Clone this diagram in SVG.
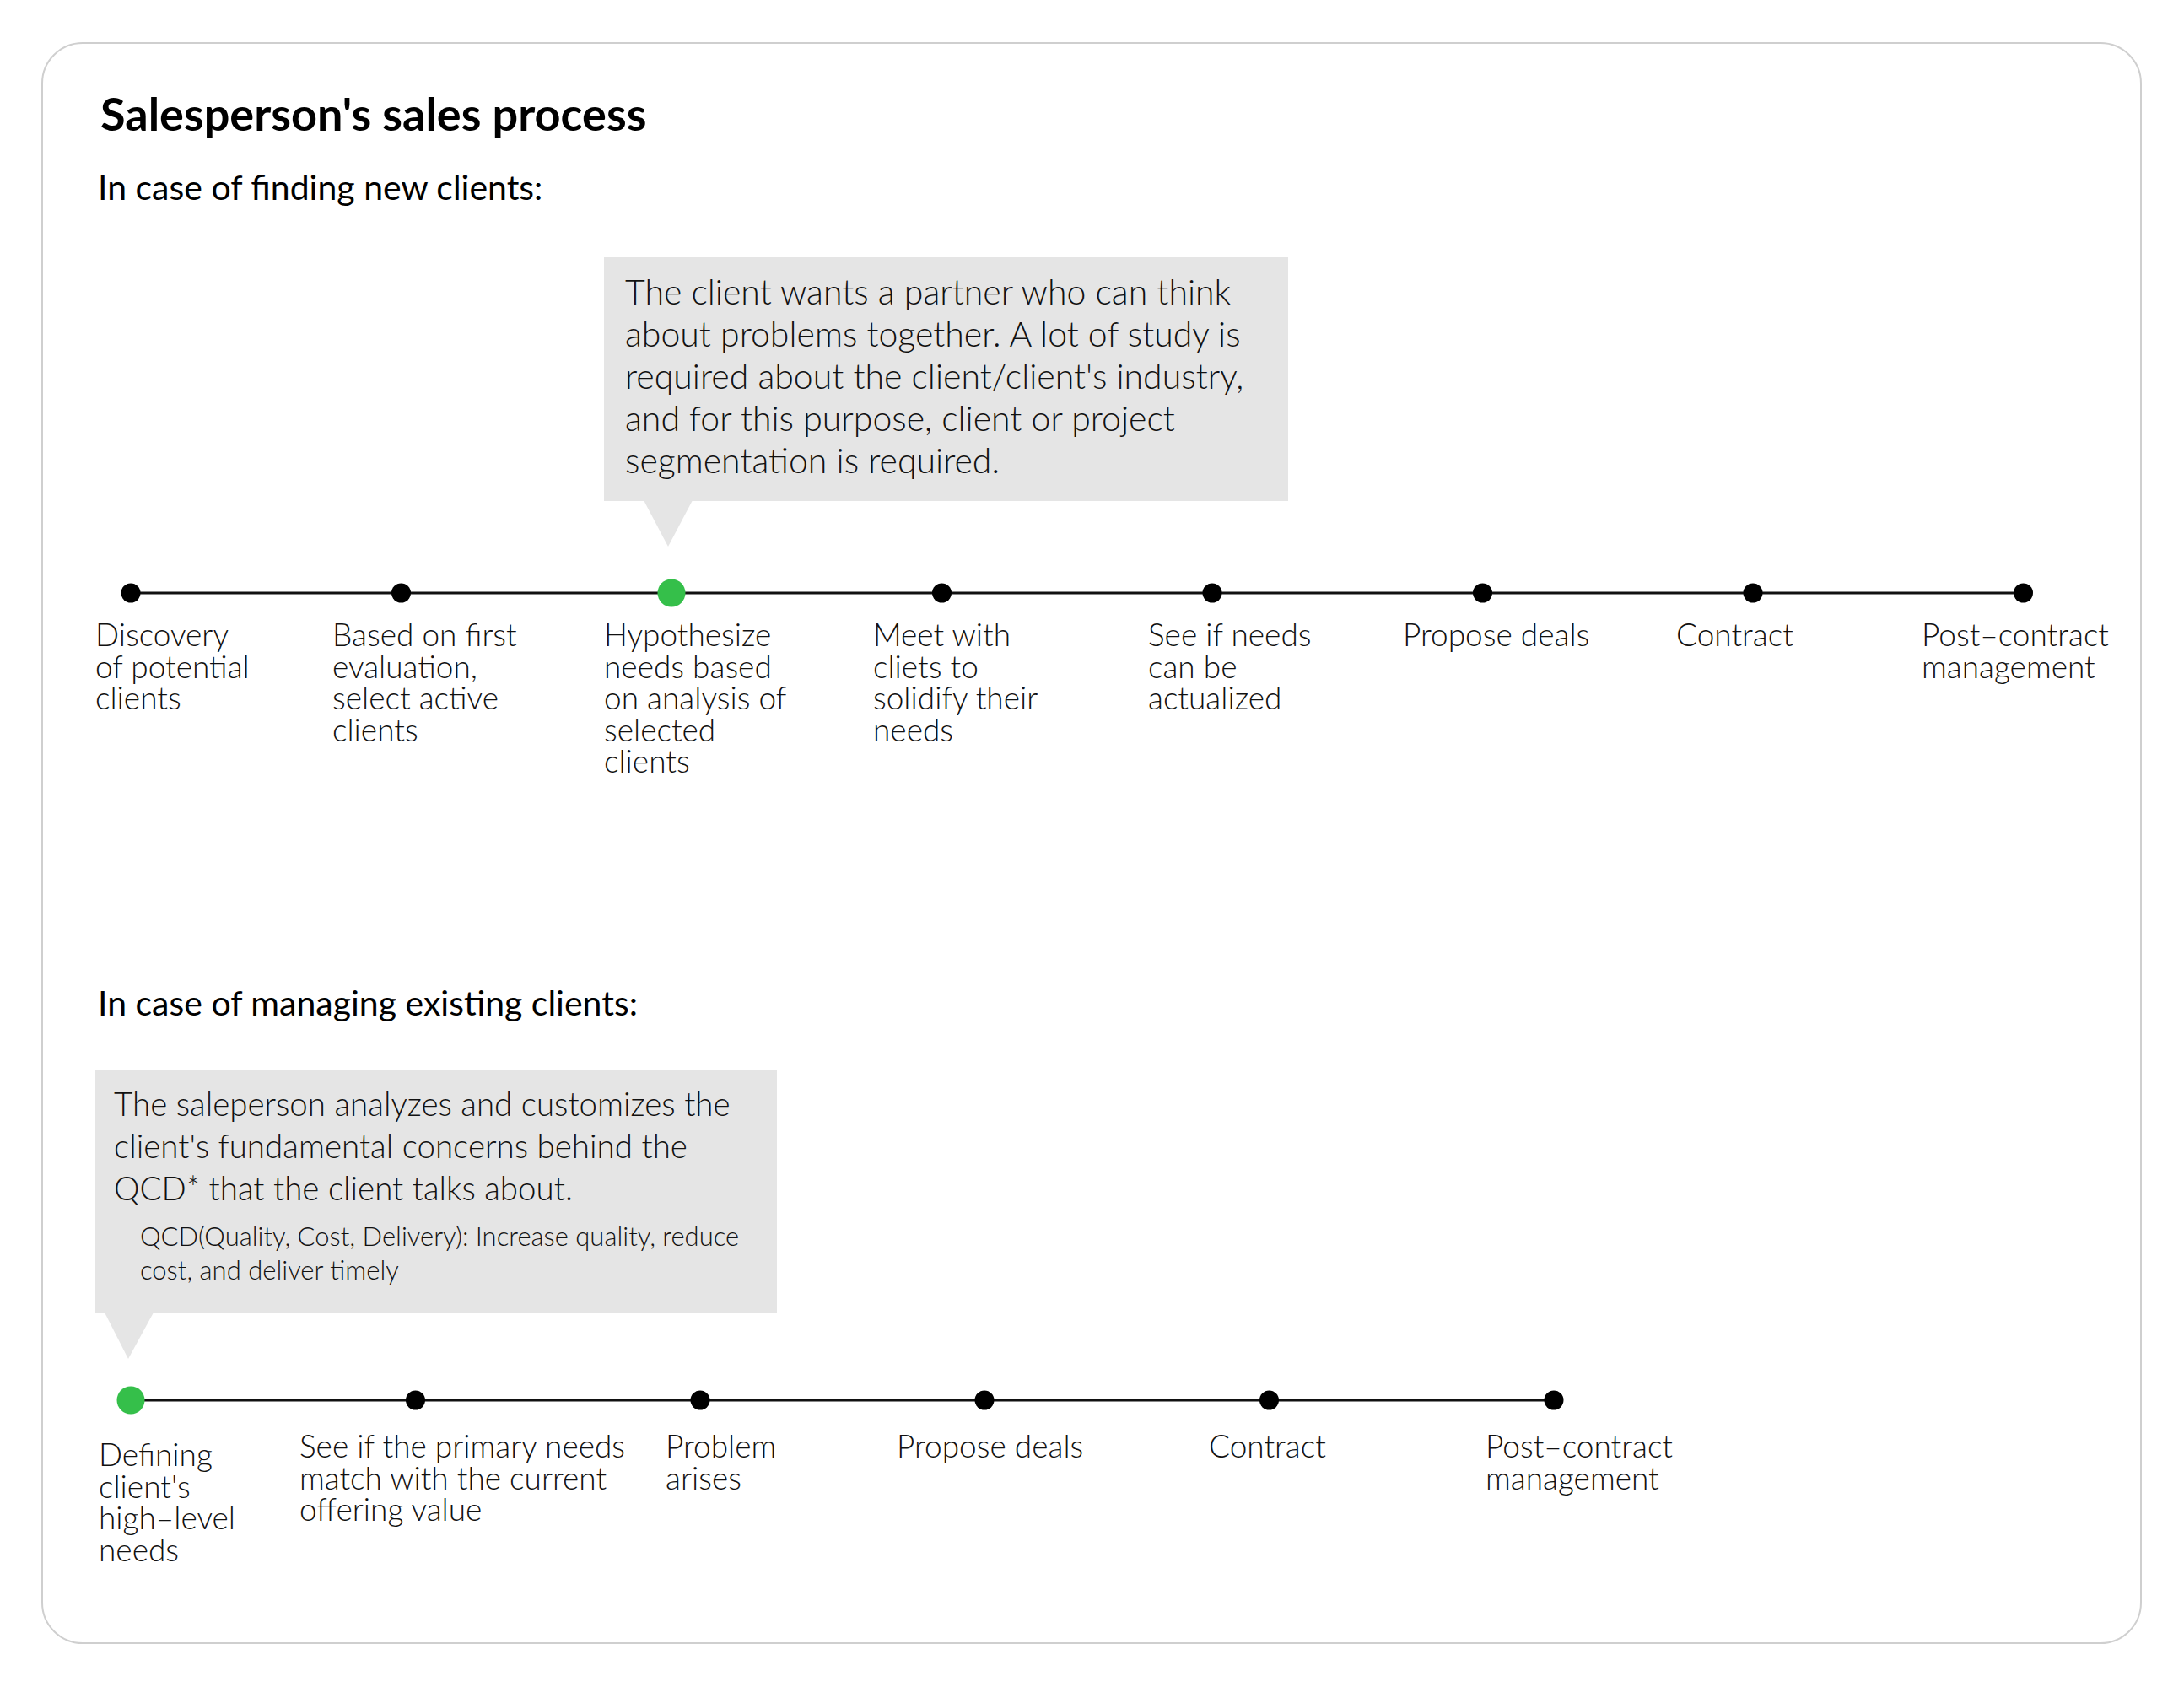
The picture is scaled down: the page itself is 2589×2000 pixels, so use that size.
<svg xmlns="http://www.w3.org/2000/svg" width="2589" height="2000" viewBox="0 0 2589 2000">
<style>
.frame{fill:#fff;stroke:#cfcfcf;stroke-width:2}
.title{font-family:Lato,"Liberation Sans",sans-serif;font-weight:700;font-size:54px;fill:#000}
.sub{font-family:Lato,"Liberation Sans",sans-serif;font-weight:400;font-size:41px;fill:#000}
.call{fill:#e5e5e5}
.ct1{font-family:Lato,"Liberation Sans",sans-serif;font-weight:300;font-size:41px;fill:#111}
.ct2{font-family:Lato,"Liberation Sans",sans-serif;font-weight:300;font-size:38.5px;fill:#111}
.cs{font-family:Lato,"Liberation Sans",sans-serif;font-weight:300;font-size:31px;fill:#111}
.lbl{font-family:Lato,"Liberation Sans",sans-serif;font-weight:300;font-size:37px;fill:#111}
.line{stroke:#111;stroke-width:3;fill:none}
.dot{fill:#000}
.gdot{fill:#35bf4a}
</style>
<rect class="frame" x="50" y="51" width="2488" height="1897" rx="48" ry="48"/>
<text class="title" x="119" y="155">Salesperson's sales process</text>
<text class="sub" x="116" y="237">In case of finding new clients:</text>
<text class="sub" x="116" y="1204">In case of managing existing clients:</text>

<g id="callout1">
<rect class="call" x="716" y="305" width="811" height="289"/>
<polygon class="call" points="763,593 821,593 792,648"/>
<text class="ct1"><tspan x="741" y="361">The client wants a partner who can think</tspan><tspan x="741" y="411">about problems together. A lot of study is</tspan><tspan x="741" y="461">required about the client/client's industry,</tspan><tspan x="741" y="511">and for this purpose, client or project</tspan><tspan x="741" y="561">segmentation is required.</tspan></text>
</g>

<g id="callout2">
<rect class="call" x="113" y="1268" width="808" height="289"/>
<polygon class="call" points="124,1556 182,1556 152,1611"/>
<text class="ct2"><tspan x="135" y="1323">The saleperson analyzes and customizes the</tspan><tspan x="135" y="1373">client's fundamental concerns behind the</tspan><tspan x="135" y="1423">QCD* that the client talks about.</tspan></text>
<text class="cs"><tspan x="166" y="1477">QCD(Quality, Cost, Delivery): Increase quality, reduce</tspan><tspan x="166" y="1517">cost, and deliver timely</tspan></text>
</g>

<g id="connectors">
<line class="line" x1="155" y1="703" x2="2399" y2="703"/>
<line class="line" x1="155" y1="1660" x2="1842" y2="1660"/>
</g>

<g id="n1-1"><circle class="dot" cx="155" cy="703" r="11.5"/><text class="lbl"><tspan x="113" y="766">Discovery</tspan><tspan x="113" y="803.5">of potential</tspan><tspan x="113" y="841">clients</tspan></text></g>
<g id="n1-2"><circle class="dot" cx="475.5" cy="703" r="11.5"/><text class="lbl"><tspan x="394" y="766">Based on first</tspan><tspan x="394" y="803.5">evaluation,</tspan><tspan x="394" y="841">select active</tspan><tspan x="394" y="878.5">clients</tspan></text></g>
<g id="n1-3"><circle class="gdot" cx="796" cy="703" r="16.5"/><text class="lbl"><tspan x="716" y="766">Hypothesize</tspan><tspan x="716" y="803.5">needs based</tspan><tspan x="716" y="841">on analysis of</tspan><tspan x="716" y="878.5">selected</tspan><tspan x="716" y="916">clients</tspan></text></g>
<g id="n1-4"><circle class="dot" cx="1116.5" cy="703" r="11.5"/><text class="lbl"><tspan x="1035" y="766">Meet with</tspan><tspan x="1035" y="803.5">cliets to</tspan><tspan x="1035" y="841">solidify their</tspan><tspan x="1035" y="878.5">needs</tspan></text></g>
<g id="n1-5"><circle class="dot" cx="1437" cy="703" r="11.5"/><text class="lbl"><tspan x="1361" y="766">See if needs</tspan><tspan x="1361" y="803.5">can be</tspan><tspan x="1361" y="841">actualized</tspan></text></g>
<g id="n1-6"><circle class="dot" cx="1757.5" cy="703" r="11.5"/><text class="lbl" x="1663" y="766">Propose deals</text></g>
<g id="n1-7"><circle class="dot" cx="2078" cy="703" r="11.5"/><text class="lbl" x="1987" y="766">Contract</text></g>
<g id="n1-8"><circle class="dot" cx="2398.5" cy="703" r="11.5"/><text class="lbl"><tspan x="2278" y="766">Post–contract</tspan><tspan x="2278" y="803.5">management</tspan></text></g>

<g id="n2-1"><circle class="gdot" cx="155" cy="1660" r="16.5"/><text class="lbl"><tspan x="117" y="1738">Defining</tspan><tspan x="117" y="1775.5">client's</tspan><tspan x="117" y="1813">high–level</tspan><tspan x="117" y="1850.5">needs</tspan></text></g>
<g id="n2-2"><circle class="dot" cx="492.5" cy="1660" r="11.5"/><text class="lbl"><tspan x="355" y="1728">See if the primary needs</tspan><tspan x="355" y="1765.5">match with the current</tspan><tspan x="355" y="1803">offering value</tspan></text></g>
<g id="n2-3"><circle class="dot" cx="830" cy="1660" r="11.5"/><text class="lbl"><tspan x="789" y="1728">Problem</tspan><tspan x="789" y="1765.5">arises</tspan></text></g>
<g id="n2-4"><circle class="dot" cx="1167" cy="1660" r="11.5"/><text class="lbl" x="1063" y="1728">Propose deals</text></g>
<g id="n2-5"><circle class="dot" cx="1504.5" cy="1660" r="11.5"/><text class="lbl" x="1433" y="1728">Contract</text></g>
<g id="n2-6"><circle class="dot" cx="1842" cy="1660" r="11.5"/><text class="lbl"><tspan x="1761" y="1728">Post–contract</tspan><tspan x="1761" y="1765.5">management</tspan></text></g>
</svg>
